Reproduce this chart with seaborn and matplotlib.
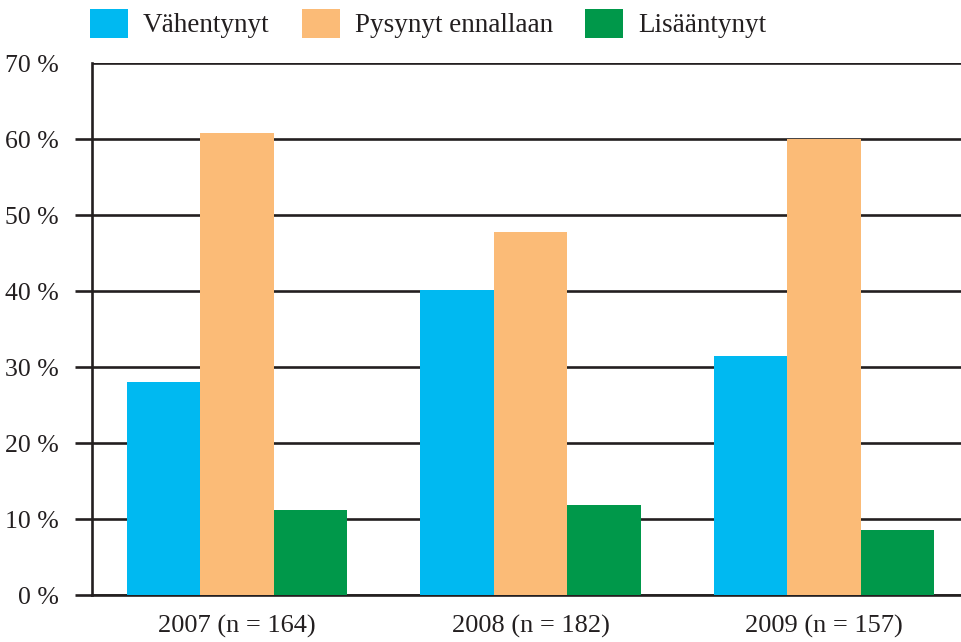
import pandas as pd
import seaborn as sns
import matplotlib.pyplot as plt

# data
years = ["2007 (n = 164)", "2008 (n = 182)", "2009 (n = 157)"]
groups = ["Vähentynyt", "Pysynyt ennallaan", "Lisääntynyt"]
vahentynyt = [28.0, 40.1, 31.5]
pysynyt = [60.8, 47.7, 60.0]
lisaantynyt = [11.2, 11.9, 8.6]
colors = ["#00B9F1", "#FBBB77", "#00984A"]

df = pd.DataFrame({
    "vuosi": years * 3,
    "ryhma": [groups[0]] * 3 + [groups[1]] * 3 + [groups[2]] * 3,
    "osuus": vahentynyt + pysynyt + lisaantynyt,
})

sns.set_style("white")
plt.rcParams["font.family"] = ["Liberation Serif", "DejaVu Serif"]
ink = "#231F20"

fig = plt.figure(figsize=(9.62, 6.42), dpi=100)
ax = fig.add_axes([92 / 962, 47 / 642, 1 - 92 / 962, 532 / 642])

sns.barplot(data=df, x="vuosi", y="osuus", hue="ryhma", hue_order=groups,
            palette=colors, width=0.75, saturation=1, linewidth=0,
            ax=ax, zorder=3)

ax.set_ylim(0, 70)
ax.set_xlim(-0.494, 2.47)
ax.set_yticks(range(0, 80, 10))
ax.set_yticklabels([f"{v} %" for v in range(0, 80, 10)])
ax.yaxis.grid(True, color=ink, linewidth=1.9, zorder=0)
ax.set_axisbelow(True)
ax.set_xlabel("")
ax.set_ylabel("")

for side in ["top", "right"]:
    ax.spines[side].set_visible(False)
for side in ["left", "bottom"]:
    ax.spines[side].set_color(ink)
    ax.spines[side].set_linewidth(1.9)

ax.tick_params(axis="y", length=12, width=1.9, color=ink, pad=12,
               labelsize=18.5, labelcolor=ink, left=True)
ax.tick_params(axis="x", length=0, pad=14, labelsize=19, labelcolor=ink)
ax.yaxis.get_major_ticks()[-1].tick1line.set_visible(False)

ax.legend(loc="upper left", bbox_to_anchor=(90 / 962, 1 - 9 / 642),
          bbox_transform=fig.transFigure, ncol=3, frameon=False,
          fontsize=19.5, handlelength=1.4, handleheight=1.25,
          handletextpad=0.55, columnspacing=1.2, borderaxespad=0,
          borderpad=0, labelcolor=ink)

fig.savefig("out.png", dpi=100)
